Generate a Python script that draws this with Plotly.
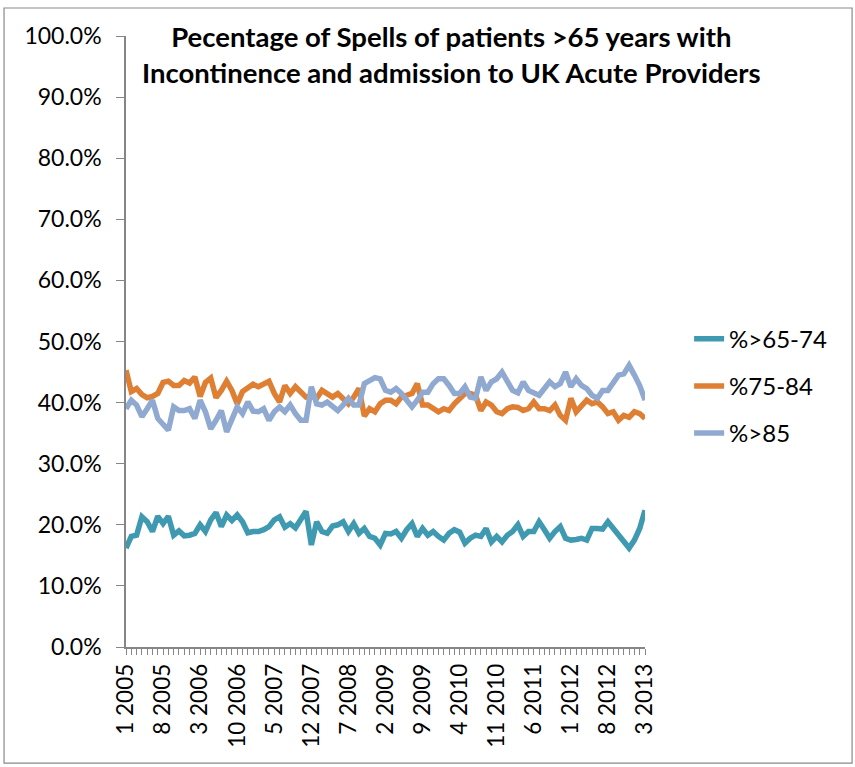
import plotly.graph_objects as go

months = []
for y in range(2005, 2014):
    for m in range(1, 13):
        if y == 2013 and m > 3:
            break
        months.append(f"{m} {y}")

s65_74 = [16.2, 18.1, 18.3, 21.3, 20.5, 18.9, 21.4, 20.2, 21.4, 18.3,
          19.0, 18.2, 18.3, 18.6, 20.0, 18.9, 20.8, 22.0, 19.7, 21.6,
          20.7, 21.6, 20.5, 18.7, 18.9, 18.9, 19.2, 19.7, 20.8, 21.3,
          19.6, 20.2, 19.5, 20.8, 22.2, 16.7, 20.5, 18.9, 18.6, 19.8,
          20.0, 20.5, 18.9, 20.2, 18.6, 19.4, 18.1, 17.8, 16.7, 18.6,
          18.5, 18.9, 17.8, 19.2, 20.2, 18.1, 19.4, 18.3, 18.9, 18.1,
          17.5, 18.6, 19.2, 18.8, 17.0, 17.8, 18.3, 18.1, 19.4, 17.2,
          18.1, 17.2, 18.3, 18.9, 20.0, 18.1, 18.9, 18.9, 20.5, 19.2,
          17.8, 18.9, 19.7, 17.8, 17.5, 17.6, 17.8, 17.5, 19.4, 19.4,
          19.3, 20.5, 19.4, 18.6, 17.2, 16.2, 17.5, 19.4, 22.4]

s75_84 = [45.3, 41.8, 42.3, 41.3, 40.8, 41.0, 41.5, 43.3, 43.5, 42.8,
          42.8, 43.6, 43.2, 44.2, 41.0, 43.3, 44.0, 40.8, 42.0, 43.5,
          42.0, 39.8, 41.8, 42.3, 43.0, 42.6, 43.1, 43.5, 41.5, 40.1,
          42.8, 41.5, 42.6, 41.7, 40.9, 41.0, 40.7, 42.0, 41.5, 40.9,
          41.5, 40.5, 39.8, 40.9, 42.3, 37.8, 39.0, 38.5, 39.8, 40.4,
          40.4, 39.8, 40.9, 41.2, 41.5, 43.1, 39.6, 39.6, 39.0, 38.5,
          39.0, 38.7, 39.8, 40.7, 41.5, 41.5, 41.2, 38.7, 40.1, 39.6,
          38.5, 38.2, 39.0, 39.3, 39.2, 38.7, 39.0, 40.1, 39.0, 39.0,
          38.7, 39.6, 37.9, 37.1, 40.7, 38.5, 39.6, 40.4, 39.8, 40.1,
          39.3, 38.2, 38.5, 37.1, 37.9, 37.6, 38.5, 38.2, 37.4]

s85 = [39.0, 40.4, 39.6, 37.7, 39.0, 40.4, 37.4, 36.6, 35.5, 39.3,
       38.7, 38.7, 39.0, 37.4, 40.4, 38.5, 35.7, 37.1, 38.7, 35.2,
       37.1, 39.3, 38.2, 40.1, 38.6, 38.5, 39.0, 37.1, 38.5, 39.3,
       38.5, 39.6, 38.2, 37.1, 37.1, 42.6, 39.8, 39.6, 40.1, 39.3,
       38.7, 39.6, 40.7, 39.6, 39.6, 43.1, 43.7, 44.1, 43.9, 42.0,
       41.7, 42.3, 41.5, 40.4, 39.3, 40.4, 41.7, 41.7, 43.1, 43.9,
       43.9, 42.8, 41.5, 41.5, 42.6, 40.9, 40.7, 44.2, 42.0, 43.4,
       43.9, 45.0, 43.7, 42.0, 41.6, 43.4, 42.0, 41.5, 41.2, 42.3,
       43.4, 42.6, 43.1, 45.0, 42.6, 43.9, 42.8, 42.3, 41.2, 40.7,
       42.0, 42.0, 43.1, 44.5, 44.7, 46.1, 44.5, 42.8, 40.4]

series_names = ["%>65-74", "%75-84", "%>85"]
series_colors = ["#3F9AB1", "#DE7F33", "#8FA9D0"]
series_values = [s65_74, s75_84, s85]

x_idx = list(range(len(months)))
tick_idx = list(range(0, len(months), 7))
tick_text = [months[i] for i in tick_idx]

FONT = "Lato"
fig = go.Figure()
for i, (name, col, vals) in enumerate(zip(series_names, series_colors, series_values)):
    fig.add_trace(go.Scatter(
        x=x_idx, y=[v / 100 for v in vals], mode="lines", name=name,
        line=dict(color=col, width=5.5), legendgroup=f"g{i}"))

fig.update_layout(
    width=855, height=767,
    margin=dict(l=126, r=210, t=36, b=120),
    paper_bgcolor="white", plot_bgcolor="white",
    font=dict(family=FONT, size=22, color="#000000"),
    showlegend=True,
    legend=dict(x=1.085, y=0.427, xanchor="left", yanchor="middle",
                font=dict(family=FONT, size=24, color="#000000"),
                tracegroupgap=13, bgcolor="rgba(0,0,0,0)"),
    xaxis=dict(range=[0, len(months) - 1], tickmode="array", tickvals=tick_idx,
               ticktext=tick_text, tickangle=-90, showgrid=False, zeroline=False,
               showline=True, linecolor="#868686", linewidth=1.5,
               ticks="outside", ticklen=6, tickcolor="#868686",
               tickfont=dict(family=FONT, size=22.5, color="#000000"),
               minor=dict(tickmode="linear", tick0=0, dtick=1, ticks="outside",
                          ticklen=6, tickcolor="#868686", showgrid=False)),
    yaxis=dict(range=[0, 1], tickmode="linear", tick0=0, dtick=0.1,
               tickformat=".1%", showgrid=False, zeroline=False,
               showline=True, linecolor="#868686", linewidth=1.5,
               ticks="outside", ticklen=8, tickcolor="#868686",
               ticklabelstandoff=10,
               tickfont=dict(family=FONT, size=23, color="#000000")),
)

fig.add_annotation(
    text="<b>Pecentage of Spells of patients >65 years with<br>Incontinence and admission to UK Acute Providers</b>",
    xref="paper", yref="paper", x=0.628, y=0.969, xanchor="center", yanchor="middle",
    showarrow=False, font=dict(family=FONT, size=27.5, color="#000000"), align="center")

fig.add_shape(type="rect", xref="paper", yref="paper",
              x0=-0.235, x1=1.399, y0=-0.190, y1=1.0458,
              line=dict(color="#8A8A8A", width=1.2), fillcolor="rgba(0,0,0,0)", layer="below")

fig.write_html("out.html", post_script="document.body.style.margin='0';",
               config={"displayModeBar": False})
